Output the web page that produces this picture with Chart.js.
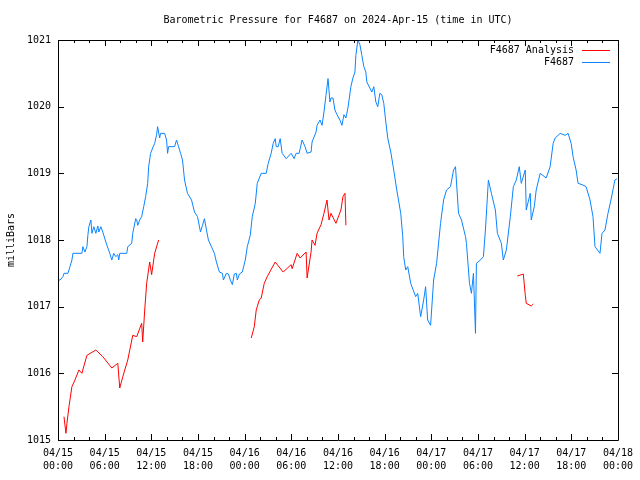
<!DOCTYPE html>
<html>
<head>
<meta charset="utf-8">
<script src="https://cdn.jsdelivr.net/npm/chart.js@4"></script>
<style>
html,body{margin:0;padding:0;background:#fff;}
#wrap{width:640px;height:480px;}
</style>
</head>
<body>
<div id="wrap"><canvas id="c" width="640" height="480"></canvas></div>
<script>
const chartTitle = "Barometric Pressure for F4687 on 2024-Apr-15 (time in UTC)";
const yTitle = "milliBars";
const seriesNames = ["F4687 Analysis", "F4687"];
const tickDates = ["04/15","04/15","04/15","04/15","04/16","04/16","04/16","04/16","04/17","04/17","04/17","04/17","04/18"];
const tickTimes = ["00:00","06:00","12:00","18:00","00:00","06:00","12:00","18:00","00:00","06:00","12:00","18:00","00:00"];

// hours since 2024-04-15 00:00 UTC
const blueHours = [0.00,0.26,0.64,0.77,1.28,1.54,1.79,1.92,3.07,3.20,3.46,3.72,3.84,3.97,4.23,4.36,4.61,4.87,5.12,5.25,5.51,5.76,5.89,6.15,6.41,6.66,6.92,7.17,7.43,7.69,7.81,7.94,8.84,8.97,9.48,9.61,9.99,10.12,10.25,10.50,10.76,11.02,11.27,11.53,11.66,11.91,12.17,12.43,12.68,12.81,13.07,13.19,13.71,13.96,14.09,14.22,14.99,15.24,15.50,15.76,16.01,16.27,16.65,17.17,17.55,17.94,18.32,18.58,18.83,19.09,19.34,19.73,20.11,20.37,20.75,21.14,21.27,21.65,21.91,22.16,22.42,22.67,22.93,23.06,23.32,23.70,24.08,24.34,24.72,24.98,25.37,25.62,26.13,26.77,27.03,27.41,27.67,27.93,28.06,28.31,28.57,28.82,29.34,29.98,30.36,30.62,31.00,31.39,31.77,32.03,32.54,32.67,33.18,33.31,33.69,33.95,34.20,34.46,34.72,34.97,35.10,35.36,35.61,35.87,36.25,36.51,36.77,37.02,37.28,37.66,37.92,38.18,38.30,38.56,38.82,39.07,39.33,39.58,39.71,40.10,40.35,40.61,40.87,41.12,41.38,41.63,41.89,42.15,42.40,42.79,43.17,43.56,44.07,44.33,44.45,44.71,44.97,45.35,45.99,46.25,46.63,47.02,47.27,47.53,47.91,48.30,48.68,49.19,49.58,49.96,50.47,50.86,51.11,51.50,51.88,52.40,52.52,52.91,53.16,53.42,53.68,53.80,54.32,54.70,54.96,55.34,55.73,56.24,56.50,57.01,57.26,57.65,58.16,58.55,58.93,59.31,59.57,60.08,60.21,60.72,60.85,61.24,61.49,62.00,62.77,63.28,63.67,63.93,64.57,65.21,65.59,65.98,66.23,66.62,66.87,67.38,67.90,68.41,68.79,69.05,69.69,69.95,70.33,70.72,71.10,71.61,71.87];
const blueValues = [1017.40,1017.40,1017.45,1017.50,1017.50,1017.60,1017.70,1017.80,1017.80,1017.90,1017.82,1017.90,1018.07,1018.20,1018.30,1018.10,1018.20,1018.10,1018.21,1018.12,1018.20,1018.12,1018.07,1017.97,1017.88,1017.80,1017.70,1017.80,1017.75,1017.78,1017.70,1017.80,1017.80,1017.90,1017.95,1018.10,1018.32,1018.30,1018.22,1018.30,1018.35,1018.50,1018.65,1018.85,1019.10,1019.30,1019.38,1019.45,1019.58,1019.70,1019.53,1019.60,1019.60,1019.50,1019.30,1019.40,1019.40,1019.50,1019.40,1019.30,1019.20,1018.90,1018.70,1018.60,1018.42,1018.35,1018.12,1018.22,1018.32,1018.15,1018.00,1017.90,1017.80,1017.67,1017.52,1017.50,1017.40,1017.50,1017.49,1017.40,1017.33,1017.49,1017.50,1017.40,1017.49,1017.52,1017.70,1017.90,1018.07,1018.35,1018.55,1018.85,1019.00,1019.00,1019.15,1019.30,1019.45,1019.52,1019.40,1019.40,1019.52,1019.30,1019.22,1019.30,1019.22,1019.30,1019.30,1019.50,1019.40,1019.30,1019.32,1019.47,1019.62,1019.72,1019.80,1019.72,1019.92,1020.17,1020.42,1020.07,1020.13,1020.13,1019.95,1019.88,1019.80,1019.72,1019.88,1019.83,1019.98,1020.30,1020.43,1020.52,1020.77,1021.00,1020.93,1020.77,1020.60,1020.52,1020.37,1020.28,1020.22,1020.30,1020.07,1020.00,1020.20,1020.18,1020.05,1019.77,1019.53,1019.32,1019.05,1018.75,1018.40,1018.05,1017.75,1017.55,1017.60,1017.35,1017.15,1017.20,1016.85,1017.10,1017.30,1016.80,1016.72,1017.40,1017.65,1018.25,1018.60,1018.75,1018.80,1019.05,1019.10,1018.40,1018.30,1018.05,1017.95,1017.35,1017.20,1017.50,1016.60,1017.65,1017.70,1017.75,1018.15,1018.90,1018.70,1018.45,1018.10,1017.95,1017.70,1017.85,1018.35,1018.80,1018.90,1019.10,1018.85,1019.05,1018.45,1018.70,1018.30,1018.50,1018.75,1019.00,1018.93,1019.10,1019.45,1019.53,1019.60,1019.57,1019.60,1019.45,1019.25,1019.05,1018.85,1018.83,1018.80,1018.60,1018.35,1017.90,1017.80,1018.10,1018.15,1018.40,1018.60,1018.90,1018.92];

const redHours = [0.77,1.02,1.15,1.41,1.79,2.18,2.69,3.07,3.72,4.87,5.76,6.92,7.69,7.94,8.33,8.97,9.61,10.12,10.76,10.89,11.15,11.40,11.79,12.04,12.43,12.94,18.00,24.85,25.24,25.49,25.88,26.13,26.52,26.90,27.93,28.95,29.98,30.11,30.75,31.13,31.90,32.03,32.54,32.67,33.05,33.31,33.82,34.20,34.59,34.85,35.10,35.74,36.38,36.64,36.90,37.02,48.00,59.06,59.83,60.08,60.21,60.85,61.11];
const redValues = [1015.35,1015.10,1015.25,1015.50,1015.80,1015.90,1016.05,1016.00,1016.27,1016.35,1016.25,1016.08,1016.15,1015.78,1015.95,1016.20,1016.57,1016.55,1016.75,1016.47,1016.95,1017.35,1017.67,1017.48,1017.80,1018.00,null,1016.53,1016.70,1016.95,1017.10,1017.13,1017.35,1017.45,1017.67,1017.52,1017.63,1017.57,1017.80,1017.73,1017.82,1017.43,1017.82,1018.00,1017.92,1018.10,1018.23,1018.40,1018.60,1018.30,1018.40,1018.25,1018.45,1018.65,1018.70,1018.22,null,1017.46,1017.49,1017.18,1017.05,1017.01,1017.04];

const FONT = "'DejaVu Sans Mono', 'Liberation Mono', monospace";
const RED = "#ff0000";
const BLUE = "#0a84ff";

const frame = {
  id: 'gnuframe',
  afterDraw(chart) {
    const ctx = chart.ctx, a = chart.chartArea;
    const xs = chart.scales.x, ys = chart.scales.y;
    ctx.save();
    ctx.strokeStyle = '#000';
    ctx.lineWidth = 1;
    ctx.beginPath();
    ctx.rect(Math.round(a.left) + 0.5, Math.round(a.top) + 0.5, Math.round(a.right - a.left), Math.round(a.bottom - a.top));
    // x ticks (top & bottom, inward)
    xs.ticks.forEach(t => {
      const px = Math.round(xs.getPixelForValue(t.value)) + 0.5;
      const len = (t.value % 6 === 0) ? 6 : 3;
      ctx.moveTo(px, a.bottom); ctx.lineTo(px, a.bottom - len);
      ctx.moveTo(px, a.top); ctx.lineTo(px, a.top + len);
    });
    ys.ticks.forEach(t => {
      const py = Math.round(ys.getPixelForValue(t.value)) + 0.5;
      ctx.moveTo(a.left, py); ctx.lineTo(a.left + 6, py);
      ctx.moveTo(a.right, py); ctx.lineTo(a.right - 6, py);
    });
    ctx.stroke();
    // title
    ctx.fillStyle = '#000';
    ctx.font = '10px ' + FONT;
    ctx.textAlign = 'center';
    ctx.textBaseline = 'middle';
    ctx.fillText(chartTitle, (a.left + a.right) / 2, 20);
    // y title
    ctx.save();
    ctx.translate(11, 240);
    ctx.rotate(-Math.PI / 2);
    ctx.fillText(yTitle, 0, 0);
    ctx.restore();
    // legend
    const colors = [RED, BLUE];
    seriesNames.forEach((n, i) => {
      const y = 50 + i * 12;
      ctx.textAlign = 'right';
      ctx.fillStyle = '#000';
      ctx.fillText(n, 574, y);
      ctx.beginPath();
      ctx.strokeStyle = colors[i];
      ctx.moveTo(582, Math.round(y) + 0.5);
      ctx.lineTo(610, Math.round(y) + 0.5);
      ctx.stroke();
    });
    ctx.restore();
  }
};

new Chart(document.getElementById('c'), {
  type: 'line',
  data: {
    datasets: [
      {
        label: seriesNames[0],
        data: redHours.map((h, i) => ({x: h, y: redValues[i]})),
        borderColor: RED, borderWidth: 1, pointRadius: 0, tension: 0, spanGaps: false, fill: false
      },
      {
        label: seriesNames[1],
        data: blueHours.map((h, i) => ({x: h, y: blueValues[i]})),
        borderColor: BLUE, borderWidth: 1, pointRadius: 0, tension: 0, fill: false
      }
    ]
  },
  options: {
    responsive: false,
    animation: false,
    events: [],
    layout: {padding: {top: 40, right: 20, left: 0, bottom: 0}},
    plugins: {legend: {display: false}, title: {display: false}, tooltip: {enabled: false}},
    scales: {
      x: {
        type: 'linear', min: 0, max: 72,
        grid: {display: false, drawTicks: false}, border: {display: false},
        afterFit: s => { s.height = 40; },
        ticks: {
          stepSize: 2, autoSkip: false, maxRotation: 0, minRotation: 0,
          color: '#000', padding: 7,
          font: {family: FONT, size: 10, lineHeight: 1.3},
          callback: v => (v % 6 === 0) ? [tickDates[v / 6], tickTimes[v / 6]] : ''
        }
      },
      y: {
        min: 1015, max: 1021,
        grid: {display: false, drawTicks: false}, border: {display: false},
        afterFit: s => { s.width = 58; },
        ticks: {
          stepSize: 1, color: '#000', padding: 7,
          font: {family: FONT, size: 10},
          callback: v => String(v)
        }
      }
    }
  },
  plugins: [frame]
});
</script>
</body>
</html>
